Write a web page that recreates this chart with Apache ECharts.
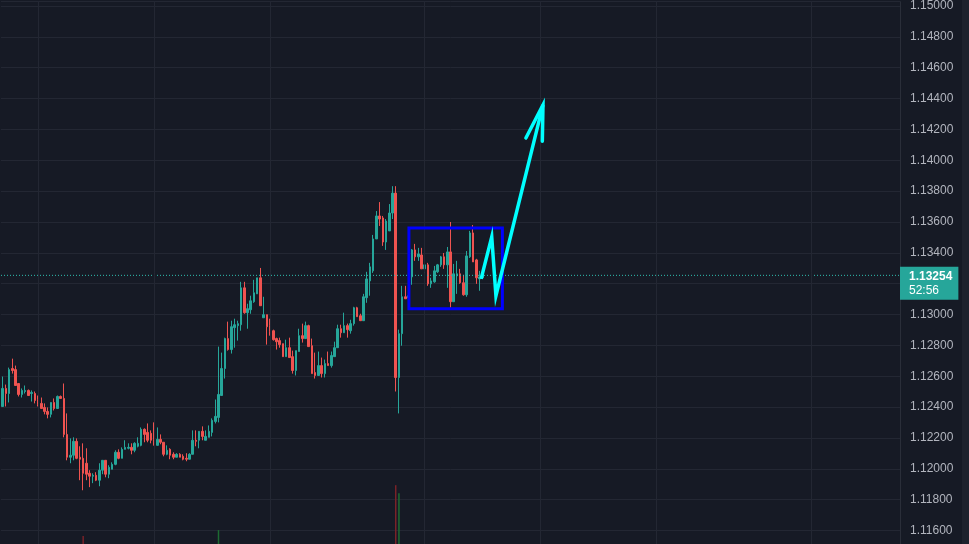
<!DOCTYPE html>
<html>
<head>
<meta charset="utf-8">
<script src="https://cdn.jsdelivr.net/npm/echarts@6/dist/echarts.min.js"></script>
<style>
html,body{margin:0;padding:0;background:#161a25;}
#c{width:969px;height:544px;}
</style>
</head>
<body>
<div id="c"></div>
<script>
// ---- data (OHLC as [open, close, low, high]) ----
const candles = [
[1.12404,1.12521,1.12404,1.12598],[1.12521,1.12488,1.12404,1.12546],[1.12488,1.12643,1.12430,1.12656],[1.12650,1.12637,1.12617,1.12714],
[1.12643,1.12540,1.12540,1.12669],[1.12553,1.12482,1.12469,1.12553],[1.12482,1.12508,1.12462,1.12521],[1.12501,1.12508,1.12488,1.12540],
[1.12508,1.12475,1.12475,1.12514],[1.12488,1.12495,1.12436,1.12508],[1.12488,1.12443,1.12424,1.12501],[1.12449,1.12417,1.12404,1.12475],
[1.12424,1.12391,1.12391,1.12462],[1.12398,1.12372,1.12353,1.12424],[1.12372,1.12353,1.12327,1.12398],[1.12353,1.12430,1.12333,1.12430],
[1.12430,1.12391,1.12378,1.12456],[1.12391,1.12469,1.12391,1.12475],[1.12469,1.12456,1.12456,1.12475],[1.12456,1.12223,1.12204,1.12553],
[1.12223,1.12075,1.12055,1.12359],[1.12075,1.12088,1.12036,1.12197],[1.12088,1.12178,1.12055,1.12204],[1.12178,1.12068,1.12062,1.12197],
[1.12075,1.12062,1.11926,1.12146],[1.12068,1.11971,1.11861,1.12165],[1.12036,1.11965,1.11926,1.12133],[1.11971,1.11952,1.11881,1.11991],
[1.11952,1.11958,1.11907,1.11971],[1.11958,1.11926,1.11920,1.11978],[1.11926,1.11991,1.11887,1.12036],[1.11991,1.12055,1.11965,1.12055],
[1.12055,1.11965,1.11945,1.12055],[1.11965,1.12010,1.11939,1.12023],[1.11997,1.12029,1.11997,1.12042],[1.12029,1.12107,1.12023,1.12120],
[1.12107,1.12068,1.12062,1.12126],[1.12068,1.12126,1.12068,1.12139],[1.12126,1.12139,1.12126,1.12185],[1.12133,1.12139,1.12126,1.12165],
[1.12139,1.12120,1.12094,1.12165],[1.12120,1.12165,1.12107,1.12172],[1.12146,1.12165,1.12139,1.12204],[1.12152,1.12256,1.12146,1.12268],
[1.12256,1.12223,1.12172,1.12262],[1.12236,1.12185,1.12172,1.12294],[1.12230,1.12185,1.12165,1.12249],[1.12191,1.12152,1.12152,1.12301],
[1.12152,1.12191,1.12152,1.12268],[1.12191,1.12172,1.12159,1.12223],[1.12172,1.12094,1.12081,1.12172],[1.12094,1.12120,1.12088,1.12152],
[1.12126,1.12088,1.12062,1.12133],[1.12094,1.12075,1.12062,1.12107],[1.12075,1.12094,1.12075,1.12101],[1.12094,1.12075,1.12075,1.12101],
[1.12081,1.12062,1.12055,1.12094],[1.12068,1.12062,1.12049,1.12101],[1.12062,1.12094,1.12062,1.12101],[1.12094,1.12185,1.12094,1.12249],
[1.12185,1.12178,1.12146,1.12249],[1.12185,1.12243,1.12133,1.12243],[1.12243,1.12210,1.12185,1.12275],[1.12185,1.12210,1.12185,1.12249],
[1.12204,1.12243,1.12204,1.12281],[1.12236,1.12314,1.12210,1.12327],[1.12307,1.12340,1.12294,1.12449],[1.12333,1.12482,1.12301,1.12792],
[1.12475,1.12650,1.12475,1.12753],[1.12650,1.12844,1.12585,1.12850],[1.12844,1.12773,1.12766,1.12954],[1.12773,1.12921,1.12747,1.12960],
[1.12915,1.12934,1.12785,1.12973],[1.12928,1.12941,1.12831,1.12960],[1.12934,1.13173,1.12895,1.13212],[1.13173,1.13012,1.13005,1.13212],
[1.13012,1.13038,1.12908,1.13070],[1.13031,1.13089,1.13005,1.13122],[1.13083,1.13141,1.13076,1.13225],[1.13134,1.13238,1.13134,1.13238],
[1.13238,1.13057,1.13057,1.13302],[1.12979,1.12999,1.12979,1.13115],[1.12999,1.12921,1.12805,1.12999],[1.12928,1.12889,1.12863,1.12973],
[1.12895,1.12837,1.12831,1.12902],[1.12844,1.12824,1.12773,1.12850],[1.12831,1.12805,1.12785,1.12850],[1.12811,1.12727,1.12727,1.12811],
[1.12727,1.12785,1.12727,1.12837],[1.12785,1.12721,1.12721,1.12850],[1.12727,1.12637,1.12617,1.12766],[1.12637,1.12766,1.12605,1.12766],
[1.12760,1.12863,1.12760,1.12908],[1.12863,1.12844,1.12818,1.12941],[1.12844,1.12928,1.12844,1.12954],[1.12928,1.12792,1.12792,1.12934],
[1.12798,1.12617,1.12617,1.12844],[1.12624,1.12605,1.12585,1.12753],[1.12605,1.12669,1.12605,1.12760],[1.12669,1.12617,1.12592,1.12721],
[1.12617,1.12682,1.12592,1.12708],[1.12682,1.12669,1.12669,1.12760],[1.12669,1.12734,1.12656,1.12760],[1.12727,1.12785,1.12727,1.12824],
[1.12785,1.12908,1.12785,1.12934],[1.12908,1.12882,1.12850,1.12934],[1.12882,1.12928,1.12882,1.13012],[1.12928,1.12902,1.12850,1.12941],
[1.12895,1.12941,1.12876,1.12966],[1.12941,1.13044,1.12928,1.13050],[1.13044,1.12986,1.12986,1.13050],[1.12992,1.12960,1.12960,1.13005],
[1.12960,1.13115,1.12960,1.13134],[1.13109,1.13231,1.13076,1.13277],[1.13218,1.13309,1.13122,1.13335],[1.13283,1.13490,1.13270,1.13516],
[1.13490,1.13639,1.13490,1.13671],[1.13639,1.13619,1.13574,1.13729],[1.13626,1.13470,1.13445,1.13639],[1.13470,1.13606,1.13419,1.13619],
[1.13542,1.13658,1.13542,1.13716],[1.13658,1.13787,1.13619,1.13832],[1.13787,1.12592,1.12501,1.13832],[1.12592,1.12876,1.12359,1.12902],
[1.12876,1.13115,1.12798,1.13186],[1.13115,1.13102,1.13102,1.13186],[1.13109,1.13122,1.13089,1.13154],[1.13244,1.13419,1.13193,1.13425],
[1.13419,1.13374,1.13348,1.13458],[1.13374,1.13393,1.13348,1.13432],[1.13386,1.13296,1.13296,1.13432],[1.13296,1.13322,1.13270,1.13367],
[1.13322,1.13199,1.13186,1.13335],[1.13199,1.13218,1.13173,1.13238],[1.13212,1.13283,1.13206,1.13315],[1.13277,1.13322,1.13270,1.13328],
[1.13322,1.13374,1.13309,1.13380],[1.13374,1.13322,1.13296,1.13399],[1.13322,1.13406,1.13173,1.13438],[1.13406,1.13083,1.13044,1.13600],
[1.13083,1.13264,1.13083,1.13328],[1.13251,1.13264,1.13134,1.13348],[1.13264,1.13206,1.13199,1.13296],[1.13206,1.13128,1.13122,1.13257],
[1.13128,1.13380,1.13115,1.13412],[1.13374,1.13529,1.13367,1.13542],[1.13529,1.13341,1.13341,1.13580],[1.13354,1.13238,1.13199,1.13361],
[1.13231,1.13244,1.13154,1.13283],[1.13238,1.13254,1.13231,1.13270]
];
const slotCount = 279;                       // bars visible incl. empty future space
const categories = Array.from({length: slotCount}, (_, i) => String(i));
const gridSlots = [11, 47, 83, 131, 167, 203, 251];   // vertical time grid lines
const volumeSlots = [25, 67, 122, 123];
const volumeValues = [8, 14, 59, 51];
const lastPrice = 1.13254;
const countdown = '52:56';
const boxX = [126.1, 155.1];
const boxY = [1.13561, 1.13038];
const arrowPath = [[148.5, 1.13231], [151.8, 1.13503], [153.1, 1.13122], [167.7, 1.14359]];
const arrowHead = [[162.4, 1.14144], [167.7, 1.14359], [167.5, 1.14123]];
const priceMin = 1.115125, priceMax = 1.150278;

const UP = '#26a69a', DOWN = '#ef5350', GRID = '#232733';
const FONT = 'Liberation Sans, Arial, sans-serif';
const OFF = { show: false };

const volume = categories.map(() => null);
volumeSlots.forEach((s, k) => {
  const c = candles[s];
  volume[s] = { value: volumeValues[k], itemStyle: { color: c[1] >= c[0] ? '#1d6b32' : '#7a2228' } };
});

const chart = echarts.init(document.getElementById('c'), null, { renderer: 'canvas' });
chart.setOption({
  backgroundColor: '#161a25',
  animation: false,
  graphic: [{ type: 'rect', right: 0, top: 0, shape: { width: 7, height: 544 }, style: { fill: '#1e222d' }, z: 100 }],
  grid: { left: 1, right: 69, top: 0, bottom: 0, containLabel: false, show: false },
  xAxis: [
    { type: 'category', data: categories, boundaryGap: true,
      axisLine: OFF, axisLabel: OFF, axisTick: OFF, splitLine: OFF, splitArea: OFF },
    { type: 'value', min: -0.5, max: slotCount - 0.5, show: false,
      axisLine: OFF, axisLabel: OFF, axisTick: OFF, splitLine: OFF }
  ],
  yAxis: [
    { type: 'value', position: 'right', min: priceMin, max: priceMax, splitNumber: 17, scale: true,
      axisLine: { show: true, onZero: false, lineStyle: { color: '#2a2e39' } }, axisTick: OFF,
      splitLine: { show: true, lineStyle: { color: GRID, width: 1 } },
      axisLabel: { color: '#b2b5be', fontSize: 12, fontFamily: FONT, margin: 10,
        showMinLabel: false, showMaxLabel: false, formatter: v => v.toFixed(5) } },
    { type: 'value', position: 'right', min: 0, max: 544, show: false,
      axisLine: { show: false, onZero: false }, axisLabel: OFF, axisTick: OFF, splitLine: OFF }
  ],
  series: [
    { type: 'bar', xAxisIndex: 0, yAxisIndex: 1, data: volume, barWidth: 1.5, z: 1,
      markLine: { silent: true, symbol: ['none', 'none'], label: { show: false },
        lineStyle: { color: GRID, type: 'solid', width: 1 },
        data: gridSlots.map(s => ({ xAxis: categories[s] })) } },
    { type: 'candlestick', xAxisIndex: 0, yAxisIndex: 0, data: candles, barWidth: 2, z: 2,
      itemStyle: { color: UP, color0: DOWN, borderColor: UP, borderColor0: DOWN, borderWidth: 1 } },
    { type: 'line', xAxisIndex: 1, yAxisIndex: 0, z: 3, symbol: 'none', silent: true,
      data: [[-0.5, lastPrice], [slotCount - 0.5, lastPrice]],
      lineStyle: { color: '#2fbfb0', type: [1, 2], width: 1 },
      endLabel: { show: true, distance: 0, offset: [0, 8],
        formatter: () => '{p|' + lastPrice.toFixed(5) + '}\n{t|' + countdown + '}',
        backgroundColor: UP, padding: [2, 6, 2, 9],
        rich: { p: { color: '#ffffff', fontWeight: 'bold', fontSize: 12, lineHeight: 15, fontFamily: FONT },
                t: { color: '#ffffff', fontSize: 12, lineHeight: 14, fontFamily: FONT } } } },
    { type: 'line', xAxisIndex: 1, yAxisIndex: 0, z: 5, symbol: 'none',
      data: [[boxX[0], boxY[0]], [boxX[1], boxY[0]], [boxX[1], boxY[1]], [boxX[0], boxY[1]], [boxX[0], boxY[0]]],
      lineStyle: { color: '#0000ff', width: 3, join: 'miter', cap: 'square' } },
    { type: 'line', xAxisIndex: 1, yAxisIndex: 0, z: 6, symbol: 'none', data: arrowPath,
      lineStyle: { color: '#00ffff', width: 3.5, join: 'miter', cap: 'butt' } },
    { type: 'line', xAxisIndex: 1, yAxisIndex: 0, z: 6, symbol: 'none', data: arrowHead,
      lineStyle: { color: '#00ffff', width: 3.5, join: 'miter', cap: 'round' } }
  ]
});
</script>
</body>
</html>
